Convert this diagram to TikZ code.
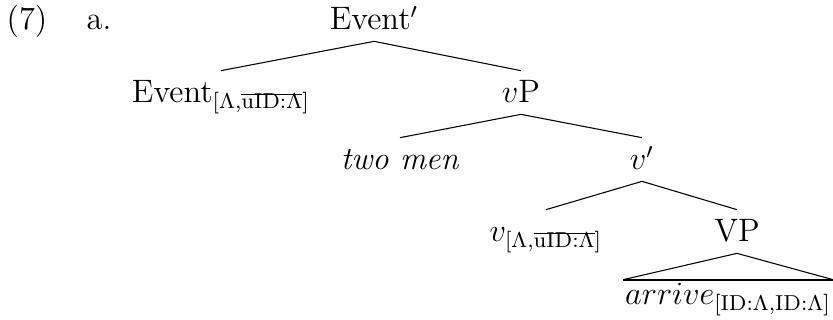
\documentclass[12pt,tikz,border=0pt]{standalone}
\usepackage{amssymb}
\usepackage{tikz}
\usetikzlibrary{positioning}

% struck-out feature in a subscript
\newcommand{\struck}[1]{\setbox0\hbox{$\scriptstyle\mathrm{#1}$}\rlap{\rule[0.85\ht0]{\wd0}{0.5pt}}\box0}

\begin{document}
\begin{tikzpicture}[x=0.013cm, y=-0.013cm,
                    cat/.style={anchor=base, inner sep=4pt, text height=1.5ex, text depth=0pt}]
                        \useasboundingbox (0, 0) rectangle (833, 320);
                        \node[anchor=base] (num) at (27, 30) {(7)};
                        \node[anchor=base] (lbl) at (99, 30) {a.};
                        \node[cat] (ev) at (374, 30) {Event$'$};
                        \node[cat] (evh) at (221, 103) {Event$_{[\Lambda,\struck{uID{:}\Lambda}]}$};
                        \node[cat] (vp) at (521, 103) {$v$P};
                        \node[cat] (men) at (400, 170) {\textit{two men}};
                        \node[cat] (vb) at (642, 170) {$v'$};
                        \node[cat] (vh) at (546, 242) {$v_{[\Lambda,\struck{uID{:}\Lambda}]}$};
                        \node[cat] (VP) at (737, 242) {VP};
                        \node[cat, anchor=base east, inner xsep=0.5pt, text height=1ex] (arr) at (833, 305) {$arrive_{[\mathrm{ID{:}\Lambda},\mathrm{ID{:}\Lambda}]}$};
                        \draw
                        (ev.south) -- (evh.north)
                        (ev.south) -- (vp.north)
                        (vp.south) -- (men.north)
                        (vp.south) -- (vb.north)
                        (vb.south) -- (vh.north)
                        (vb.south) -- (VP.north)
                        (arr.north west) -- (VP.south) -- (arr.north east);
                        \draw[line width=0.8pt] (arr.north west) -- (arr.north east);
                    \end{tikzpicture}
\end{document}
